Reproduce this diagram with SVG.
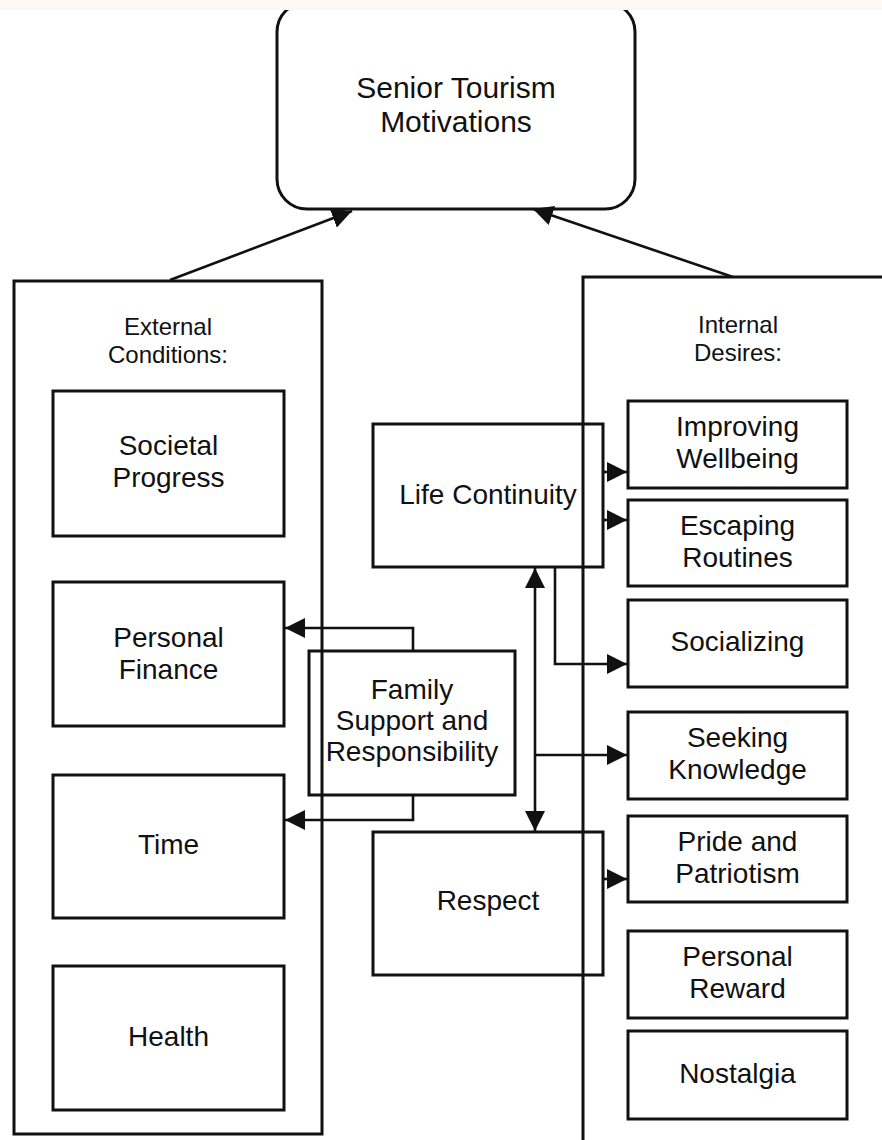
<svg xmlns="http://www.w3.org/2000/svg" width="882" height="1140" viewBox="0 0 882 1140">
<defs>
<style>
.box{fill:none;stroke:#111;stroke-width:3}
.con{fill:none;stroke:#111;stroke-width:2.6}
.lbl{font-family:"Liberation Sans",Arial,sans-serif;font-size:28px;fill:#111;text-anchor:middle}
.hdr{font-family:"Liberation Sans",Arial,sans-serif;font-size:24px;fill:#111;text-anchor:middle}
.ttl{font-family:"Liberation Sans",Arial,sans-serif;font-size:30px;fill:#111;text-anchor:middle}
</style>
<marker id="ah" markerUnits="userSpaceOnUse" markerWidth="22" markerHeight="22" refX="20" refY="10" orient="auto-start-reverse">
<path d="M0,0 L20,10 L0,20 z" fill="#111"/>
</marker>
</defs>
<rect x="0" y="0" width="882" height="1140" fill="#ffffff"/>

<g id="senior-tourism-motivations">
<rect class="box" x="277" y="2" width="358" height="207" rx="30" ry="30"/>
<text class="ttl" x="456" y="98">Senior Tourism</text>
<text class="ttl" x="456" y="132">Motivations</text>
</g>
<rect x="0" y="0" width="882" height="10" fill="#fcf8f3"/>

<g id="external-conditions">
<rect class="box" x="14" y="281" width="308" height="853"/>
<text class="hdr" x="168" y="335">External</text>
<text class="hdr" x="168" y="363">Conditions:</text>
</g>
<g id="internal-desires">
<rect class="box" x="583" y="277" width="400" height="900"/>
<text class="hdr" x="738" y="333">Internal</text>
<text class="hdr" x="738" y="361">Desires:</text>
</g>

<g id="societal-progress">
<rect class="box" x="53" y="391" width="231" height="145"/>
<text class="lbl" x="168.5" y="455">Societal</text>
<text class="lbl" x="168.5" y="487">Progress</text>
</g>
<g id="personal-finance">
<rect class="box" x="53" y="582" width="231" height="144"/>
<text class="lbl" x="168.5" y="647">Personal</text>
<text class="lbl" x="168.5" y="679">Finance</text>
</g>
<g id="time">
<rect class="box" x="53" y="775" width="231" height="143"/>
<text class="lbl" x="168.5" y="854">Time</text>
</g>
<g id="health">
<rect class="box" x="53" y="966" width="231" height="144"/>
<text class="lbl" x="168.5" y="1046">Health</text>
</g>

<g id="life-continuity">
<rect class="box" x="373" y="424" width="230" height="143"/>
<text class="lbl" x="488" y="504">Life Continuity</text>
</g>
<g id="family-support">
<rect class="box" x="309" y="651" width="206" height="144"/>
<text class="lbl" x="412" y="699">Family</text>
<text class="lbl" x="412" y="730">Support and</text>
<text class="lbl" x="412" y="761">Responsibility</text>
</g>
<g id="respect">
<rect class="box" x="373" y="832" width="230" height="143"/>
<text class="lbl" x="488" y="910">Respect</text>
</g>

<g id="improving-wellbeing">
<rect class="box" x="628" y="401" width="219" height="87"/>
<text class="lbl" x="737.5" y="436">Improving</text>
<text class="lbl" x="737.5" y="468">Wellbeing</text>
</g>
<g id="escaping-routines">
<rect class="box" x="628" y="500" width="219" height="86"/>
<text class="lbl" x="737.5" y="535">Escaping</text>
<text class="lbl" x="737.5" y="567">Routines</text>
</g>
<g id="socializing">
<rect class="box" x="628" y="600" width="219" height="87"/>
<text class="lbl" x="737.5" y="651">Socializing</text>
</g>
<g id="seeking-knowledge">
<rect class="box" x="628" y="712" width="219" height="87"/>
<text class="lbl" x="737.5" y="747">Seeking</text>
<text class="lbl" x="737.5" y="779">Knowledge</text>
</g>
<g id="pride-patriotism">
<rect class="box" x="628" y="816" width="219" height="86"/>
<text class="lbl" x="737.5" y="851">Pride and</text>
<text class="lbl" x="737.5" y="883">Patriotism</text>
</g>
<g id="personal-reward">
<rect class="box" x="628" y="931" width="219" height="87"/>
<text class="lbl" x="737.5" y="966">Personal</text>
<text class="lbl" x="737.5" y="998">Reward</text>
</g>
<g id="nostalgia">
<rect class="box" x="628" y="1031" width="219" height="88"/>
<text class="lbl" x="737.5" y="1083">Nostalgia</text>
</g>

<g id="connectors">
<path class="con" d="M170,280 L352,211" marker-end="url(#ah)"/>
<path class="con" d="M733,277 L533,209" marker-end="url(#ah)"/>
<path class="con" d="M603,472 L627,472" marker-end="url(#ah)"/>
<path class="con" d="M603,520 L627,520" marker-end="url(#ah)"/>
<path class="con" d="M555,567 L555,664 L627,664" marker-end="url(#ah)"/>
<path class="con" d="M535,568 L535,831" marker-start="url(#ah)" marker-end="url(#ah)"/>
<path class="con" d="M535,755 L627,755" marker-end="url(#ah)"/>
<path class="con" d="M603,879 L627,879" marker-end="url(#ah)"/>
<path class="con" d="M413,651 L413,628 L285,628" marker-end="url(#ah)"/>
<path class="con" d="M413,795 L413,820 L285,820" marker-end="url(#ah)"/>
</g>
</svg>
